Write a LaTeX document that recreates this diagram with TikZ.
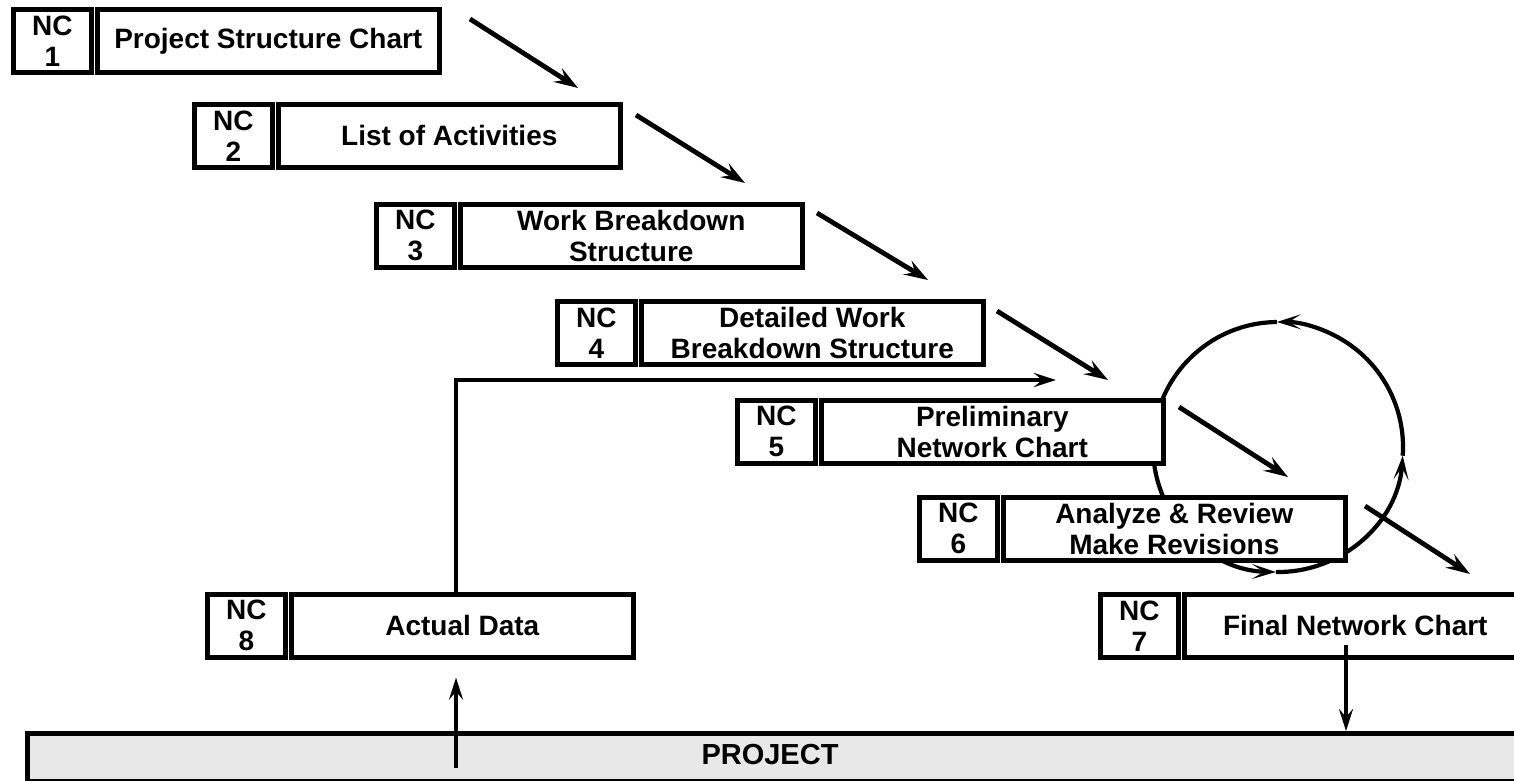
\documentclass[tikz,border=0pt]{standalone}
\usepackage{fontspec}
\setmainfont{Liberation Sans}
\usetikzlibrary{arrows.meta,calc}
\definecolor{barfill}{HTML}{E8E8E8}

% A numbered step: small "NC n" cell followed by the title cell
% #1 name, #2 left edge, #3 top edge, #4 number, #5 title
\newcommand{\ncbox}[5]{%
  \node[ncpart]   (#1nc) at (#2+2,#3+2)  {NC\\#4};
  \node[mainpart] (#1)   at (#2+86,#3+2) {#5};
}

\tikzset{
  boxbase/.style={draw, line width=2.3pt, fill=white, anchor=north west,
    inner sep=0pt, align=center, minimum height=31.5pt,
    font=\bfseries\fontsize{14}{15.5}\selectfont},
  ncpart/.style={boxbase, minimum width=39pt},
  mainpart/.style={boxbase, minimum width=171pt},
  flow/.style={line width=2.4pt, -{Stealth[length=12pt,width=8pt,inset=4.5pt]}},
  feed/.style={line width=1.9pt, -{Stealth[length=11pt,width=7pt,inset=4pt]}},
  loop/.style={line width=2.1pt, -{Stealth[length=12pt,width=7.5pt,inset=6pt]}},
  bar/.style={draw, line width=2.3pt, fill=barfill, anchor=north west,
    inner sep=0pt, minimum width=760pt, minimum height=24pt},
  bartext/.style={font=\bfseries\fontsize{14.5}{16}\selectfont, inner sep=0pt}
}

\begin{document}
\begin{tikzpicture}[x=0.5pt, y=-0.5pt]
  \useasboundingbox (0,0) rectangle (1514,781);
  \fill[white] (0,0) rectangle (1514,781);
  \clip (0,0) rectangle (1514,781);

  % review loop around steps 5 and 6 (drawn first, boxes cover it)
  \coordinate (cc) at (1278,447);
  \draw[loop] ($(cc)+(269.5:125)$) arc[start angle=269.5, end angle=91, radius=125];
  \draw[loop] ($(cc)+(91:125)$) arc[start angle=91, end angle=4, radius=125];
  \draw[loop] ($(cc)+(4:125)$) arc[start angle=4, end angle=-90.5, radius=125];

  % the steps
  \ncbox{s1}{9}{5}{1}{Project Structure Chart}
  \ncbox{s2}{190}{100}{2}{List of Activities}
  \ncbox{s3}{372}{200}{3}{Work Breakdown\\Structure}
  \ncbox{s4}{553}{297}{4}{Detailed Work\\Breakdown Structure}
  \ncbox{s5}{733}{396}{5}{Preliminary\\Network Chart}
  \ncbox{s6}{915}{493}{6}{Analyze \& Review\\Make Revisions}
  \ncbox{s7}{1096}{590}{7}{Final Network Chart}
  \ncbox{s8}{203}{590}{8}{Actual Data}

  % project bar
  \node[bar] (bar) at (25,731) {};
  \node[bartext] (ptxt) at (770,755) {PROJECT};

  % cascade arrows between the steps
  \coordinate (d1s) at (470,19);   \coordinate (d1e) at (578,88);
  \coordinate (d2s) at (636,115);  \coordinate (d2e) at (745,183);
  \coordinate (d3s) at (817,213);  \coordinate (d3e) at (928,280);
  \coordinate (d4s) at (997,311);  \coordinate (d4e) at (1108,380);
  \coordinate (d5s) at (1179,407); \coordinate (d5e) at (1288,477);
  \coordinate (d6s) at (1365,506); \coordinate (d6e) at (1470,574);
  \draw[flow] (d1s) -- (d1e);
  \draw[flow] (d2s) -- (d2e);
  \draw[flow] (d3s) -- (d3e);
  \draw[flow] (d4s) -- (d4e);
  \draw[flow] (d5s) -- (d5e);
  \draw[flow] (d6s) -- (d6e);

  % feedback from actual data into the preliminary chart
  \coordinate (turn) at (456,380);
  \coordinate (fbend) at (1056,380);
  \draw[feed] (s8.north -| turn) -- (turn) -- (fbend);

  % project <-> charts
  \coordinate (upfoot) at (456,768);
  \draw[feed, shorten >=9pt] (upfoot) -- (upfoot |- s8.south);
  \coordinate (downtop) at (1346,645);
  \draw[feed] (downtop) -- (downtop |- bar.north);
\end{tikzpicture}
\end{document}
